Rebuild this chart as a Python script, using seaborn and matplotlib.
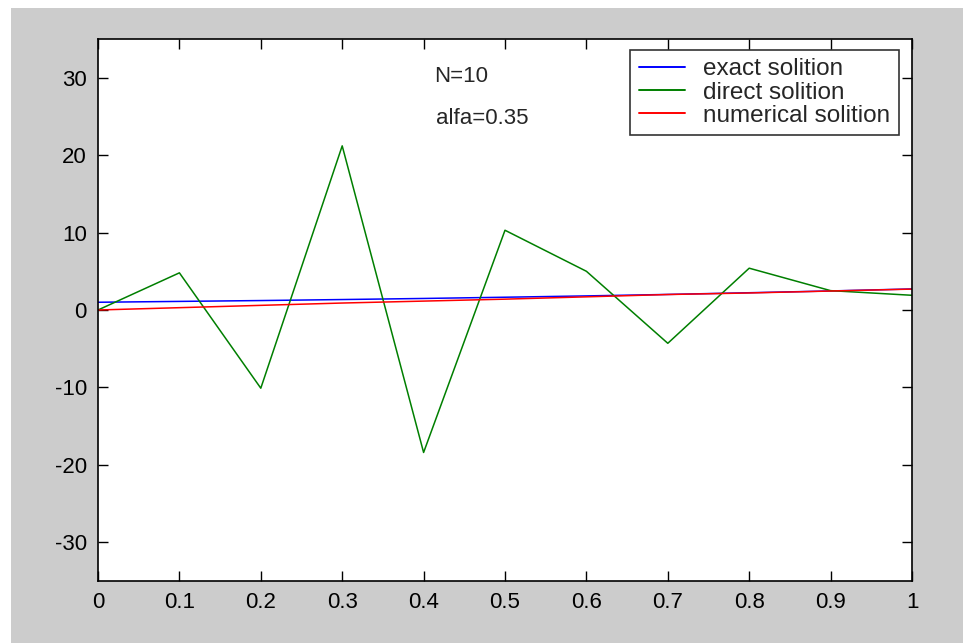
import matplotlib
matplotlib.use("Agg")
import matplotlib.pyplot as plt
import seaborn as sns
import pandas as pd
from matplotlib.patches import Rectangle

# Grid points and solution values (N = 10, alfa = 0.35)
x_nodes = [0.0, 0.1, 0.2, 0.3, 0.4, 0.5, 0.6, 0.7, 0.8, 0.9, 1.0]
exact_vals = [1.0, 1.11, 1.22, 1.35, 1.49, 1.65, 1.82, 2.01, 2.23, 2.46, 2.72]
direct_vals = [0.0, 4.8, -10.1, 21.2, -18.4, 10.3, 5.0, -4.3, 5.4, 2.5, 1.9]
numerical_vals = [0.0, 0.3, 0.6, 0.9, 1.15, 1.4, 1.7, 2.0, 2.2, 2.45, 2.7]

series_names = ["exact solition", "direct solition", "numerical solition"]
series_colors = ["#0000ff", "#007f00", "#ff0000"]
x_ticks = [0, 0.1, 0.2, 0.3, 0.4, 0.5, 0.6, 0.7, 0.8, 0.9, 1]
x_tick_labels = ["0", "0.1", "0.2", "0.3", "0.4", "0.5", "0.6", "0.7", "0.8", "0.9", "1"]
y_ticks = [-30, -20, -10, 0, 10, 20, 30]

df = pd.concat([
    pd.DataFrame({"x": x_nodes, "y": exact_vals, "series": series_names[0]}),
    pd.DataFrame({"x": x_nodes, "y": direct_vals, "series": series_names[1]}),
    pd.DataFrame({"x": x_nodes, "y": numerical_vals, "series": series_names[2]}),
], ignore_index=True)

sns.set_style("ticks")
plt.rcParams["font.family"] = ["Liberation Sans", "DejaVu Sans"]
plt.rcParams["axes.unicode_minus"] = False

fig = plt.figure(figsize=(9.63, 6.43), dpi=100, facecolor="white")
# gray figure panel behind the axes
panel = Rectangle((11 / 963, 0), 1 - 11 / 963, 1 - 8 / 643,
                  transform=fig.transFigure, facecolor="#cccccc",
                  edgecolor="none", zorder=-5)
fig.add_artist(panel)

ax = fig.add_axes([98 / 963, 1 - 581 / 643, (912 - 98) / 963, (581 - 39) / 643])
ax.set_zorder(1)
ax.set_facecolor("white")

sns.lineplot(data=df, x="x", y="y", hue="series", hue_order=series_names,
             palette=series_colors, linewidth=1.1, ax=ax, sort=False,
             estimator=None)

ax.set_xlim(0, 1)
ax.set_ylim(-35, 35)
ax.set_xticks(x_ticks)
ax.set_xticklabels(x_tick_labels)
ax.set_yticks(y_ticks)
ax.set_xlabel("")
ax.set_ylabel("")
ax.tick_params(direction="in", length=7, width=1, top=True, right=True,
               labelsize=16, pad=8, colors="black")
for s in ax.spines.values():
    s.set_visible(True)
    s.set_linewidth(1.2)
    s.set_color("black")

ax.text(0.413, 29.4, "N=10", fontsize=16)
ax.text(0.415, 24.0, "alfa=0.35", fontsize=16)

leg = ax.legend(loc="upper right", bbox_to_anchor=(0.9835, 0.98), fontsize=17.5,
                frameon=True, fancybox=False, handlelength=1.9,
                handletextpad=0.75, borderpad=0.35, labelspacing=0.05,
                borderaxespad=0)
leg.get_frame().set_edgecolor("black")
leg.get_frame().set_linewidth(1.2)
for h in leg.legend_handles:
    h.set_linewidth(1.4)

fig.savefig("out.png", dpi=100, facecolor=fig.get_facecolor())
